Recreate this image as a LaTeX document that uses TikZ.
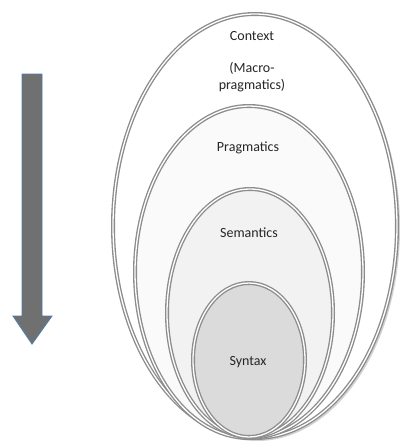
\documentclass[tikz,border=0pt]{standalone}
\usepackage{fontspec}
\setmainfont{Carlito}
\definecolor{ringgray}{RGB}{140,140,140}
\definecolor{arrowfill}{RGB}{112,112,112}
\definecolor{arrowedge}{RGB}{80,125,170}
\tikzset{ring/.style={draw=ringgray,line width=4pt,postaction={draw=white,line width=1.3pt}},
  lbl/.style={font=\fontsize{14}{17}\selectfont,align=center,text=black!85}}

\begin{document}
\begin{tikzpicture}[x=1pt,y=-1pt]
	\useasboundingbox (0,0) rectangle (409,445);
	% arrow
	\filldraw[fill=arrowfill,draw=arrowedge,line width=0.9pt] (22,74) -- (42,74) -- (42,316) -- (52,316) -- (32,344) -- (13,316) -- (22,316) -- cycle;
	% nested ellipses
	\fill[gray!35] (257,228) ellipse (143 and 213);
	\filldraw[ring,fill=white] (255,226) ellipse (142 and 212);
	\filldraw[ring,fill=gray!4] (249,272) ellipse (114 and 166);
	\filldraw[ring,fill=gray!10] (250,313) ellipse (83 and 124);
	\filldraw[ring,fill=gray!28] (249,360) ellipse (56 and 77);
	% labels
	\node[lbl] (context) at (252,36) {Context};
	\node[lbl] (macro) at (252,77) {(Macro-\\pragmatics)};
	\node[lbl] (pragmatics) at (248,148) {Pragmatics};
	\node[lbl] (semantics) at (249,233) {Semantics};
	\node[lbl] (syntax) at (248,362) {Syntax};
\end{tikzpicture}
\end{document}
